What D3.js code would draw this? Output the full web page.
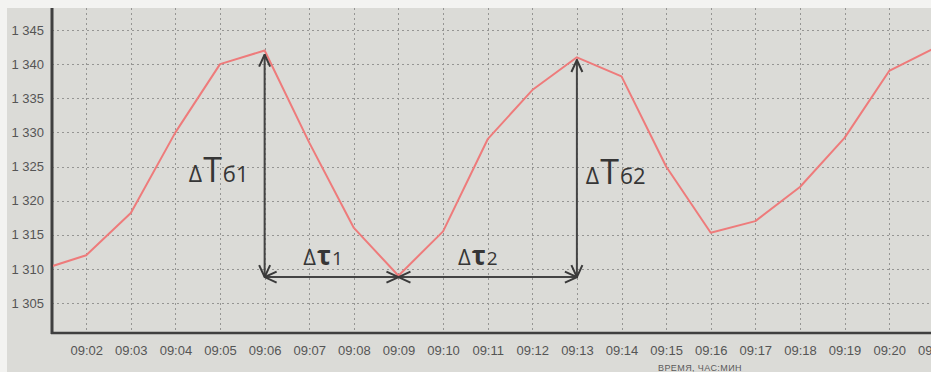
<!DOCTYPE html>
<html>
<head>
<meta charset="utf-8">
<script src="https://cdn.jsdelivr.net/npm/d3@7"></script>
<style>
  html, body { margin: 0; padding: 0; background: #f3f3f1; }
  svg { display: block; }
</style>
</head>
<body>
<div id="chartHolder"></div>
<script>
// readings, one per minute (first point is where the trace enters the plot)
const times = ['09:01:14', '09:02:00', '09:03:00', '09:04:00', '09:05:00', '09:06:00', '09:07:00',
  '09:08:00', '09:09:00', '09:10:00', '09:11:00', '09:12:00', '09:13:00', '09:14:00', '09:15:00',
  '09:16:00', '09:17:00', '09:18:00', '09:19:00', '09:20:00', '09:21:00'];
const values = [1310.4, 1312, 1318.2, 1330, 1340, 1342, 1328.5, 1316, 1309, 1315.5, 1329,
  1336.2, 1341, 1338.2, 1325, 1315.3, 1317, 1322, 1329.2, 1339, 1342.3];

const xTicks = ['09:02', '09:03', '09:04', '09:05', '09:06', '09:07', '09:08', '09:09', '09:10', '09:11',
  '09:12', '09:13', '09:14', '09:15', '09:16', '09:17', '09:18', '09:19', '09:20', '09:21'];
const yTicks = [1305, 1310, 1315, 1320, 1325, 1330, 1335, 1340, 1345];
const xDomain = ['09:01:14', '09:21:03'];
const xTitle = 'ВРЕМЯ, ЧАС:МИН';

// annotation arrows: amplitudes (vertical) and half-periods (horizontal)
const ampArrows = [
  { time: '09:06:00', low: 1308.8, high: 1341.4 },
  { time: '09:13:00', low: 1308.8, high: 1340.6 }
];
const periodArrows = [
  { from: '09:06:00', to: '09:09:00', level: 1308.8 },
  { from: '09:09:00', to: '09:13:00', level: 1308.8 }
];
const labels = [
  { time: '09:04:18', value: 1322.8, parts: ['Δ', 'T', 'б1'] },
  { time: '09:13:12', value: 1322.5, parts: ['Δ', 'T', 'б2'] },
  { time: '09:06:52', value: 1310.5, parts: ['Δ', 'τ', '1'] },
  { time: '09:10:20', value: 1310.5, parts: ['Δ', 'τ', '2'] }
];

const W = 931, H = 372;
const margin = { top: 8, right: -5, bottom: 39, left: 52 };
const parse = d3.timeParse('%H:%M:%S');
const parseTick = d3.timeParse('%H:%M');

const ru = d3.formatLocale({ decimal: ',', thousands: ' ', grouping: [3], currency: ['', ''] });
const fmtY = ru.format(',d');

const svg = d3.select('#chartHolder').append('svg')
  .attr('width', W)
  .attr('height', H);

svg.append('rect')
  .attr('x', 7).attr('y', 8)
  .attr('width', W).attr('height', H)
  .attr('fill', '#dbdbd7');

const x = d3.scaleTime()
  .domain(xDomain.map(parse))
  .range([margin.left, W - margin.right]);
const y = d3.scaleLinear()
  .domain([1305, 1345])
  .range([303, 30]);

const plotBottom = H - margin.bottom;

// grid
const grid = svg.append('g')
  .attr('stroke', '#959593')
  .attr('stroke-width', 1)
  .attr('stroke-dasharray', '2,3');

grid.selectAll('line.v')
  .data(xTicks)
  .enter().append('line')
  .attr('class', 'v')
  .attr('x1', d => Math.round(x(parseTick(d))) + 0.5)
  .attr('x2', d => Math.round(x(parseTick(d))) + 0.5)
  .attr('y1', margin.top)
  .attr('y2', plotBottom);

grid.selectAll('line.h')
  .data(yTicks)
  .enter().append('line')
  .attr('class', 'h')
  .attr('x1', margin.left)
  .attr('x2', W)
  .attr('y1', d => Math.round(y(d)) + 0.5)
  .attr('y2', d => Math.round(y(d)) + 0.5);

// axes
const xAxis = d3.axisBottom(x)
  .tickValues(xTicks.map(parseTick))
  .tickFormat(d3.timeFormat('%H:%M'))
  .tickSize(0)
  .tickPadding(13);

const gx = svg.append('g')
  .attr('transform', 'translate(0,' + plotBottom + ')')
  .call(xAxis);

const yAxis = d3.axisLeft(y)
  .tickValues(yTicks)
  .tickFormat(fmtY)
  .tickSize(0)
  .tickPadding(8);

const gy = svg.append('g')
  .attr('transform', 'translate(' + margin.left + ',0)')
  .call(yAxis);

[gx, gy].forEach(g => {
  g.select('.domain').remove();
  g.selectAll('text')
    .attr('font-family', 'Liberation Sans, Arial, sans-serif')
    .attr('font-size', 13)
    .attr('fill', '#555');
});

svg.append('line')
  .attr('x1', margin.left).attr('x2', margin.left)
  .attr('y1', margin.top).attr('y2', plotBottom + 1)
  .attr('stroke', '#3f3f3f')
  .attr('stroke-width', 3);

svg.append('line')
  .attr('x1', margin.left - 1).attr('x2', W)
  .attr('y1', plotBottom).attr('y2', plotBottom)
  .attr('stroke', '#3f3f3f')
  .attr('stroke-width', 2.5);

svg.append('text')
  .attr('x', 700)
  .attr('y', H - 1.5)
  .attr('text-anchor', 'middle')
  .attr('font-family', 'Liberation Sans, Arial, sans-serif')
  .attr('font-size', 9)
  .attr('letter-spacing', 0.4)
  .attr('fill', '#5a5a5a')
  .text(xTitle);

// series
svg.append('clipPath').attr('id', 'plotClip')
  .append('rect')
  .attr('x', margin.left + 1).attr('y', margin.top)
  .attr('width', W - margin.left).attr('height', plotBottom - margin.top);

const line = d3.line()
  .x((d, i) => x(parse(times[i])))
  .y(d => y(d));

svg.append('path')
  .datum(values)
  .attr('clip-path', 'url(#plotClip)')
  .attr('fill', 'none')
  .attr('stroke', '#ee7b7b')
  .attr('stroke-width', 2)
  .attr('stroke-linejoin', 'round')
  .attr('d', line);

// arrows
const defs = svg.append('defs');
defs.append('marker')
  .attr('id', 'head')
  .attr('viewBox', '0 0 14 14')
  .attr('refX', 13)
  .attr('refY', 7)
  .attr('markerWidth', 14)
  .attr('markerHeight', 14)
  .attr('markerUnits', 'userSpaceOnUse')
  .attr('orient', 'auto-start-reverse')
  .append('path')
  .attr('d', 'M1,1.5 L13,7 L1,12.5')
  .attr('fill', 'none')
  .attr('stroke', '#3a3a3a')
  .attr('stroke-width', 2);

const arrows = svg.append('g')
  .attr('stroke', '#444')
  .attr('stroke-width', 2)
  .attr('fill', 'none');

arrows.selectAll('line.amp')
  .data(ampArrows)
  .enter().append('line')
  .attr('class', 'amp')
  .attr('x1', d => x(parse(d.time)))
  .attr('x2', d => x(parse(d.time)))
  .attr('y1', d => y(d.low))
  .attr('y2', d => y(d.high))
  .attr('marker-start', 'url(#head)')
  .attr('marker-end', 'url(#head)');

arrows.selectAll('line.per')
  .data(periodArrows)
  .enter().append('line')
  .attr('class', 'per')
  .attr('x1', d => x(parse(d.from)))
  .attr('x2', d => x(parse(d.to)))
  .attr('y1', d => y(d.level))
  .attr('y2', d => y(d.level))
  .attr('marker-start', 'url(#head)')
  .attr('marker-end', 'url(#head)');

// labels
const sizes = { 'T': [23, 34, 22], 'τ': [22, 26, 19] };
const lab = svg.selectAll('text.lab')
  .data(labels)
  .enter().append('text')
  .attr('class', 'lab')
  .attr('x', d => x(parse(d.time)))
  .attr('y', d => y(d.value))
  .attr('font-family', 'Open Sans, Noto Sans, sans-serif')
  .attr('fill', '#363636');

lab.each(function(d) {
  const s = sizes[d.parts[1]];
  const t = d3.select(this);
  d.parts.forEach((p, i) => {
    t.append('tspan')
      .attr('font-size', s[i])
      .attr('font-weight', p === 'τ' ? 700 : 400)
      .attr('dx', i === 0 ? 0 : 1)
      .text(p);
  });
});
</script>
</body>
</html>
